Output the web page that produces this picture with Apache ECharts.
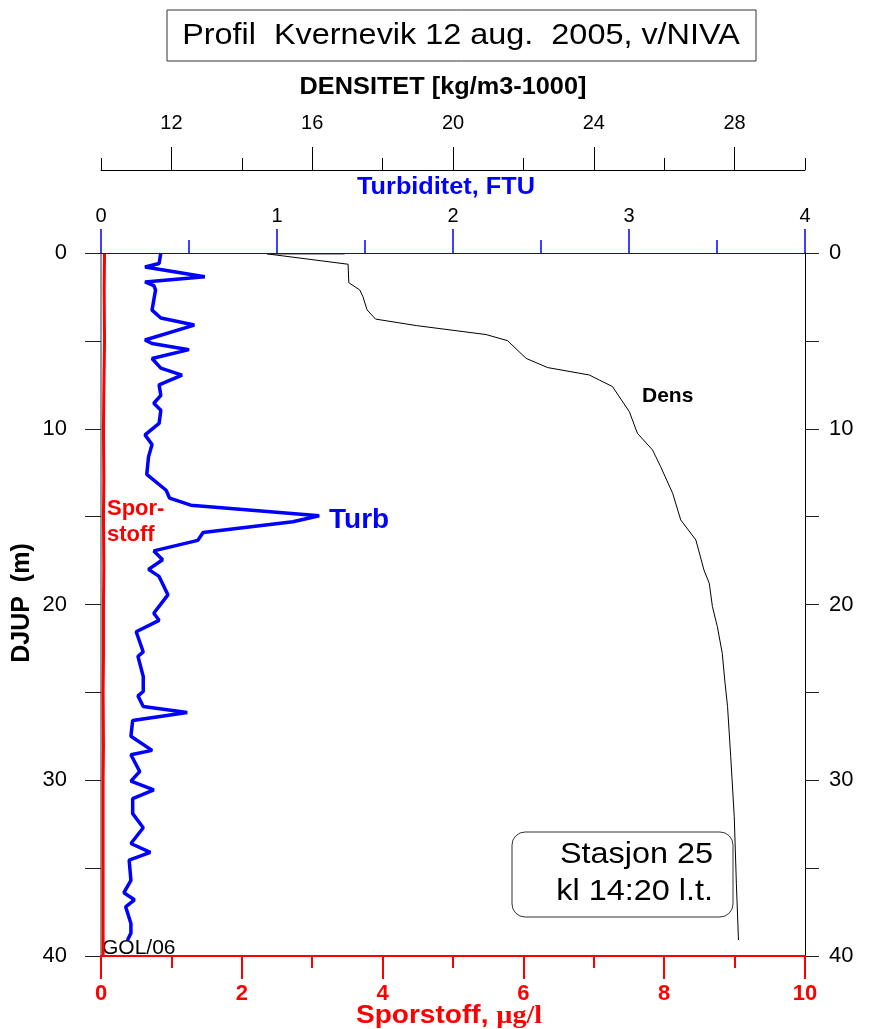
<!DOCTYPE html>
<html>
<head>
<meta charset="utf-8">
<script src="https://cdn.jsdelivr.net/npm/echarts@6/dist/echarts.min.js"></script>
<style>html,body{margin:0;padding:0;background:#fff}#c{width:870px;height:1029px}</style>
</head>
<body>
<div id="c"></div>
<script>
// ---- data ----
var turbDepth = [0, 0.6, 0.8, 1.35, 1.65, 1.85, 2.1, 3.25, 3.7, 4.1, 4.95, 5.15, 5.5, 6.0, 6.55, 6.95, 7.5, 8.1, 8.55, 8.95,
  9.7, 10.35, 10.9, 11.6, 12.6, 13.5, 13.95, 14.35, 14.95, 15.29, 15.9, 16.35, 16.95, 17.45, 18.0, 18.4, 19.45, 20.5, 20.9, 21.55,
  22.7, 22.95, 24.1, 24.95, 25.2, 25.8, 26.15, 26.6, 27.5, 28.3, 28.55, 29.5, 30.05, 30.55, 31.05, 31.9, 32.7, 33.6, 34.1, 34.55,
  35.7, 36.4, 36.8, 37.2, 38.15, 38.7, 39.1];
var turbValues = [0.34, 0.33, 0.25, 0.59, 0.25, 0.30, 0.31, 0.29, 0.34, 0.53, 0.25, 0.29, 0.50, 0.29, 0.34, 0.46, 0.33, 0.34, 0.30, 0.34,
  0.33, 0.25, 0.29, 0.27, 0.26, 0.37, 0.39, 0.51, 1.24, 1.09, 0.58, 0.55, 0.30, 0.35, 0.27, 0.33, 0.38, 0.30, 0.33, 0.20,
  0.24, 0.21, 0.24, 0.24, 0.21, 0.24, 0.49, 0.18, 0.17, 0.29, 0.17, 0.22, 0.17, 0.30, 0.18, 0.18, 0.24, 0.17, 0.28, 0.16,
  0.17, 0.13, 0.19, 0.14, 0.17, 0.17, 0.15];
var densDepth = [0.05, 0.05, 0.64, 1.69, 2.1, 2.48, 3.24, 3.76, 4.13, 4.64, 4.99, 6.0, 6.52, 6.94, 7.23, 7.6, 9.03, 10.26, 11.21, 12.16,
  13.67, 15.19, 16.33, 18.04, 18.79, 20.12, 21.26, 22.78, 24.3, 25.81, 28.66, 32.07, 35.87, 39.09];
var densValues = [16.92, 14.72, 17.02, 17.04, 17.35, 17.44, 17.56, 17.80, 18.96, 20.94, 21.55, 22.08, 22.69, 23.87, 24.16, 24.53, 25.01, 25.24, 25.67, 25.90,
  26.24, 26.47, 26.90, 27.13, 27.28, 27.37, 27.51, 27.65, 27.72, 27.80, 27.89, 27.99, 28.05, 28.11];
var sporDepth = [0, 2, 5, 8, 10, 13, 15, 18, 20, 23, 25, 28, 30, 33, 35, 38, 40];
var sporValues = [0.05, 0.045, 0.05, 0.04, 0.035, 0.04, 0.035, 0.04, 0.035, 0.035, 0.03, 0.035, 0.03, 0.03, 0.03, 0.03, 0.03];
var densMajorTicks = [12, 16, 20, 24, 28];

function pairs(xs, ys) { return xs.map(function (x, i) { return [x, ys[i]]; }); }

var FF = '"Liberation Sans", Arial, sans-serif';
var BLUE = '#0000ff';
var chart = echarts.init(document.getElementById('c'), null, { renderer: 'canvas' });
var option = {
  backgroundColor: '#fff',
  animation: false,
  grid: { left: 101, right: 65, top: 253, bottom: 73 },
  xAxis: [
    { // Sporstoff (bottom)
      type: 'value', position: 'bottom', min: 0, max: 10, interval: 2,
      axisLine: { onZero: false, lineStyle: { color: '#ff0000', width: 2 } },
      axisTick: { length: 23, lineStyle: { color: '#ff0000', width: 2 } },
      minorTick: { show: true, splitNumber: 2, length: 12, lineStyle: { color: '#ff0000', width: 2 } },
      axisLabel: { color: '#ff0000', fontWeight: 'bold', fontSize: 22, fontFamily: FF, margin: 27 },
      splitLine: { show: false }
    },
    { // Turbidity (top)
      type: 'value', position: 'top', min: 0, max: 4, interval: 1, z: 10,
      axisLine: { onZero: false, lineStyle: { color: BLUE, width: 1 } },
      axisTick: { length: 24, lineStyle: { color: BLUE, width: 1.5 } },
      minorTick: { show: true, splitNumber: 2, length: 13, lineStyle: { color: BLUE, width: 1.5 } },
      axisLabel: { color: '#000', fontSize: 20, fontFamily: FF, margin: 27 },
      splitLine: { show: false }
    },
    { // Density (top, offset)
      type: 'value', position: 'top', offset: 83, min: 10, max: 30, interval: 2,
      axisLine: { onZero: false, lineStyle: { color: '#000', width: 1 } },
      axisTick: { length: 12, lineStyle: { color: '#000', width: 1 } },
      axisLabel: { color: '#000', fontSize: 20, fontFamily: FF, margin: 37, customValues: densMajorTicks },
      splitLine: { show: false }
    },
    { // Density long ticks
      type: 'value', position: 'top', offset: 83, min: 10, max: 30, interval: 2,
      axisLine: { show: false, onZero: false },
      axisTick: { length: 23, customValues: densMajorTicks, lineStyle: { color: '#000', width: 1 } },
      axisLabel: { show: false },
      splitLine: { show: false }
    }
  ],
  yAxis: [
    {
      type: 'value', position: 'left', inverse: true, min: 0, max: 40, interval: 10,
      axisLine: { onZero: false, lineStyle: { color: '#777', width: 1.5 } },
      axisTick: { length: 16, lineStyle: { color: '#222', width: 1 } },
      minorTick: { show: true, splitNumber: 2, length: 16, lineStyle: { color: '#222', width: 1 } },
      axisLabel: { color: '#000', fontSize: 22, fontFamily: FF, margin: 34 },
      splitLine: { show: false }, minorSplitLine: { show: false }
    },
    {
      type: 'value', position: 'right', inverse: true, min: 0, max: 40, interval: 10,
      axisLine: { onZero: false, lineStyle: { color: '#000', width: 1 } },
      axisTick: { length: 14, lineStyle: { color: '#222', width: 1 } },
      minorTick: { show: true, splitNumber: 2, length: 14, lineStyle: { color: '#222', width: 1 } },
      axisLabel: { color: '#000', fontSize: 22, fontFamily: FF, margin: 24 },
      splitLine: { show: false }
    }
  ],
  series: [
    {
      name: 'Dens', type: 'line', xAxisIndex: 2, yAxisIndex: 0, showSymbol: false, symbol: 'none',
      lineStyle: { color: '#000', width: 1 }, data: pairs(densValues, densDepth), z: 3
    },
    {
      name: 'Turb', type: 'line', xAxisIndex: 1, yAxisIndex: 0, showSymbol: false, symbol: 'none',
      lineStyle: { color: BLUE, width: 3.5 }, data: pairs(turbValues, turbDepth), z: 4
    },
    {
      name: 'Sporstoff', type: 'line', xAxisIndex: 0, yAxisIndex: 0, showSymbol: false, symbol: 'none',
      lineStyle: { color: '#ff0000', width: 3 }, data: pairs(sporValues, sporDepth), z: 5
    }
  ],
  graphic: [
    { type: 'rect', shape: { x: 167, y: 10, width: 589, height: 51 }, style: { fill: '#fff', stroke: '#333', lineWidth: 1 } },
    { type: 'text', x: 461, y: 36, scaleX: 1.08,
      style: { text: 'Profil  Kvernevik 12 aug.  2005, v/NIVA', font: '30px ' + FF, fill: '#000', align: 'center', verticalAlign: 'middle', textAlign: 'center', textVerticalAlign: 'middle' } },
    { type: 'text', x: 443, y: 88, scaleX: 1.1,
      style: { text: 'DENSITET [kg/m3-1000]', font: 'bold 23px ' + FF, fill: '#000', align: 'center', verticalAlign: 'middle', textAlign: 'center', textVerticalAlign: 'middle' } },
    { type: 'text', x: 446, y: 188, scaleX: 1.1,
      style: { text: 'Turbiditet, FTU', font: 'bold 23px ' + FF, fill: BLUE, align: 'center', verticalAlign: 'middle', textAlign: 'center', textVerticalAlign: 'middle' } },
    { type: 'text', x: 22, y: 603, rotation: Math.PI / 2,
      style: { text: 'DJUP  (m)', font: 'bold 25px ' + FF, fill: '#000', align: 'center', verticalAlign: 'middle', textAlign: 'center', textVerticalAlign: 'middle' } },
    { type: 'text', x: 449, y: 1016, scaleX: 1.08,
      style: { text: '{a|Sporstoff, }{b|µg/l}', align: 'center', verticalAlign: 'middle', textAlign: 'center', textVerticalAlign: 'middle',
        rich: { a: { fontFamily: FF, fontWeight: 'bold', fontSize: 26, fill: '#ff0000', color: '#ff0000' },
                b: { fontFamily: '"Liberation Serif", "Times New Roman", serif', fontWeight: 'bold', fontSize: 26, fill: '#ff0000', color: '#ff0000' } } } },
    { type: 'text', x: 107, y: 496,
      style: { text: 'Spor-\nstoff', font: 'bold 22px ' + FF, fill: '#ff0000', lineHeight: 26, align: 'left', verticalAlign: 'top', textAlign: 'left', textVerticalAlign: 'top' } },
    { type: 'text', x: 329, y: 520,
      style: { text: 'Turb', font: 'bold 28px ' + FF, fill: BLUE, align: 'left', verticalAlign: 'middle', textAlign: 'left', textVerticalAlign: 'middle' } },
    { type: 'text', x: 642, y: 396,
      style: { text: 'Dens', font: 'bold 21px ' + FF, fill: '#000', align: 'left', verticalAlign: 'middle', textAlign: 'left', textVerticalAlign: 'middle' } },
    { type: 'text', x: 102, y: 948,
      style: { text: 'GOL/06', font: '21px ' + FF, fill: '#000', align: 'left', verticalAlign: 'middle', textAlign: 'left', textVerticalAlign: 'middle' } },
    { type: 'rect', shape: { x: 512, y: 832, width: 221, height: 85, r: 13 }, style: { fill: '#fff', stroke: '#333', lineWidth: 1 } },
    { type: 'text', x: 713, y: 855, scaleX: 1.08,
      style: { text: 'Stasjon 25', font: '30px ' + FF, fill: '#000', align: 'right', verticalAlign: 'middle', textAlign: 'right', textVerticalAlign: 'middle' } },
    { type: 'text', x: 713, y: 892, scaleX: 1.08,
      style: { text: 'kl 14:20 l.t.', font: '30px ' + FF, fill: '#000', align: 'right', verticalAlign: 'middle', textAlign: 'right', textVerticalAlign: 'middle' } }
  ]
};
chart.setOption(option);
</script>
</body>
</html>
